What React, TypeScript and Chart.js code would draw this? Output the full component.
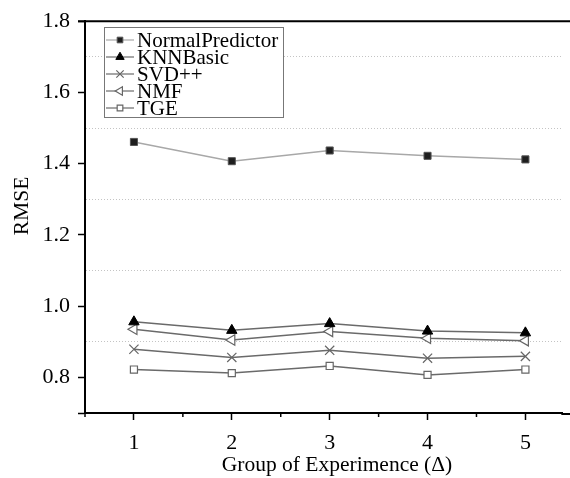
import React, { useEffect, useRef } from "react";
import { Chart, registerables } from "chart.js";
import { drawPoint } from "chart.js/helpers";

Chart.register(...registerables);

// ---- data ----
const groups = [1, 2, 3, 4, 5];
const xTickLabels = ["1", "2", "3", "4", "5"];
const xMinorTicks = [0.5, 1.5, 2.5, 3.5, 4.5];
const yTicks = [0.7, 0.8, 0.9, 1.0, 1.1, 1.2, 1.3, 1.4, 1.5, 1.6, 1.7, 1.8];
const yLabelTicks = [0.8, 1.0, 1.2, 1.4, 1.6, 1.8];
const yGridTicks = [0.9, 1.1, 1.3, 1.5, 1.7];

const seriesNames = ["NormalPredictor", "KNNBasic", "SVD++", "NMF", "TGE"];
const normalPredictor = [1.461, 1.407, 1.437, 1.422, 1.412];
const knnBasic = [0.956, 0.932, 0.951, 0.93, 0.925];
const svdpp = [0.879, 0.856, 0.876, 0.854, 0.859];
const nmf = [0.935, 0.905, 0.929, 0.91, 0.903];
const tge = [0.822, 0.812, 0.832, 0.807, 0.822];

const xTitle = "Group of Experimence (\u0394)";
const yTitle = "RMSE";

const FONT = "'Liberation Serif', 'Times New Roman', serif";

const isIn = (arr: number[], v: number) => arr.some((a) => Math.abs(a - v) < 1e-6);

const styles = [
  { line: "#a8a8a8", pointStyle: "rect", radius: 5, rotation: 0, bg: "#1e1e1e", border: "#555", bw: 1 },
  { line: "#6a6a6a", pointStyle: "triangle", radius: 6, rotation: 0, bg: "#000", border: "#000", bw: 1 },
  { line: "#6a6a6a", pointStyle: "crossRot", radius: 6.5, rotation: 0, bg: "#666", border: "#666", bw: 1.2 },
  { line: "#6a6a6a", pointStyle: "triangle", radius: 6, rotation: -90, bg: "#fff", border: "#666", bw: 1.2 },
  { line: "#6a6a6a", pointStyle: "rect", radius: 5, rotation: 0, bg: "#fff", border: "#666", bw: 1.2 },
];

const seriesValues = [normalPredictor, knnBasic, svdpp, nmf, tge];

const decorPlugin = {
  id: "decor",
  afterDraw(chart: any) {
    const { ctx, chartArea } = chart;
    const xs = chart.scales.x;
    ctx.save();
    // top frame line
    ctx.strokeStyle = "#000";
    ctx.lineWidth = 2;
    ctx.beginPath();
    ctx.moveTo(chartArea.left - 7, chartArea.top);
    ctx.lineTo(chart.width, chartArea.top);
    ctx.stroke();
    // bottom axis continues to the edge
    ctx.beginPath();
    ctx.moveTo(chartArea.right - 1, chartArea.bottom + 1);
    ctx.lineTo(chart.width, chartArea.bottom + 1);
    ctx.stroke();
    // minor x ticks
    ctx.lineWidth = 1.5;
    xMinorTicks.forEach((v) => {
      const px = xs.getPixelForValue(v);
      ctx.beginPath();
      ctx.moveTo(px, chartArea.bottom);
      ctx.lineTo(px, chartArea.bottom + 4);
      ctx.stroke();
    });
    // axis titles
    ctx.fillStyle = "#000";
    ctx.font = `21.5px ${FONT}`;
    ctx.textAlign = "center";
    ctx.textBaseline = "middle";
    ctx.fillText(xTitle, 337, 465);
    ctx.save();
    ctx.translate(22, 206);
    ctx.rotate(-Math.PI / 2);
    ctx.fillText(yTitle, 0, 0);
    ctx.restore();

    // legend
    const bx = 104, by = 27, bw = 179, bh = 90;
    ctx.fillStyle = "#fff";
    ctx.fillRect(bx, by, bw, bh);
    ctx.strokeStyle = "#777";
    ctx.lineWidth = 1;
    ctx.strokeRect(bx + 0.5, by + 0.5, bw, bh);
    seriesNames.forEach((name, i) => {
      const s = styles[i];
      const cy = 40 + i * 17;
      ctx.strokeStyle = s.line;
      ctx.lineWidth = 1.2;
      ctx.beginPath();
      ctx.moveTo(106, cy);
      ctx.lineTo(134, cy);
      ctx.stroke();
      ctx.fillStyle = s.bg;
      ctx.strokeStyle = s.border;
      ctx.lineWidth = s.bw;
      drawPoint(ctx, {
        pointStyle: s.pointStyle,
        radius: s.radius * 0.8,
        rotation: s.rotation,
        borderWidth: s.bw,
      } as any, 120, cy);
      ctx.fillStyle = "#000";
      ctx.font = `21px ${FONT}`;
      ctx.textAlign = "left";
      ctx.textBaseline = "middle";
      ctx.fillText(name, 137, cy + 1);
    });
    ctx.restore();
  },
};

export default function App() {
  const ref = useRef<HTMLCanvasElement | null>(null);
  useEffect(() => {
    if (!ref.current) return;
    const datasets = seriesNames.map((name, i) => {
      const s = styles[i];
      return {
        label: name,
        data: groups.map((g, j) => ({ x: g, y: seriesValues[i][j] })),
        borderColor: s.line,
        borderWidth: 1.5,
        pointStyle: s.pointStyle,
        pointRadius: s.radius,
        pointRotation: s.rotation,
        pointBackgroundColor: s.bg,
        pointBorderColor: s.border,
        pointBorderWidth: s.bw,
        fill: false,
        tension: 0,
      };
    });
    const chart = new Chart(ref.current, {
      type: "line",
      data: { datasets } as any,
      plugins: [decorPlugin as any],
      options: {
        animation: false,
        responsive: false,
        layout: { padding: { top: 19, left: 0, right: 0, bottom: 0 } },
        plugins: { legend: { display: false }, tooltip: { enabled: false } },
        scales: {
          x: {
            type: "linear",
            min: 0.5,
            max: 5.377,
            afterBuildTicks: (scale: any) => {
              scale.ticks = groups.map((v) => ({ value: v }));
            },
            afterFit: (scale: any) => {
              scale.height = 65;
            },
            ticks: {
              autoSkip: false,
              maxRotation: 0,
              color: "#000",
              padding: 10,
              font: { family: FONT, size: 22 },
              callback: (v: any) => {
                const i = groups.findIndex((g) => Math.abs(g - v) < 1e-6);
                return i >= 0 ? xTickLabels[i] : "";
              },
            },
            grid: {
              drawOnChartArea: false,
              drawTicks: true,
              tickLength: 7,
              tickWidth: 1.5,
              tickColor: "#000",
            },
            border: { display: true, color: "#000", width: 2 },
          },
          y: {
            type: "linear",
            min: 0.7,
            max: 1.8,
            afterBuildTicks: (scale: any) => {
              scale.ticks = yTicks.map((v) => ({ value: v }));
            },
            afterFit: (scale: any) => {
              scale.width = 85;
            },
            ticks: {
              autoSkip: false,
              color: "#000",
              padding: 8,
              font: { family: FONT, size: 22 },
              callback: (v: any) => (isIn(yLabelTicks, Number(v)) ? Number(v).toFixed(1) : ""),
            },
            grid: {
              drawTicks: true,
              tickLength: 7,
              tickWidth: 1.5,
              lineWidth: 1,
              color: (c: any) => (c.tick && isIn(yGridTicks, c.tick.value) ? "#c4c4c4" : "rgba(0,0,0,0)"),
              tickColor: (c: any) => (c.tick && isIn(yGridTicks, c.tick.value) ? "rgba(0,0,0,0)" : "#000"),
            },
            border: { display: true, color: "#000", width: 2, dash: [1, 2] },
          },
        },
      } as any,
    });
    return () => chart.destroy();
  }, []);
  return (
    <div style={{ position: "absolute", left: 0, top: 0, width: 570, height: 478, background: "#fff" }}>
      <canvas ref={ref} width={570} height={478} style={{ display: "block" }} />
    </div>
  );
}
